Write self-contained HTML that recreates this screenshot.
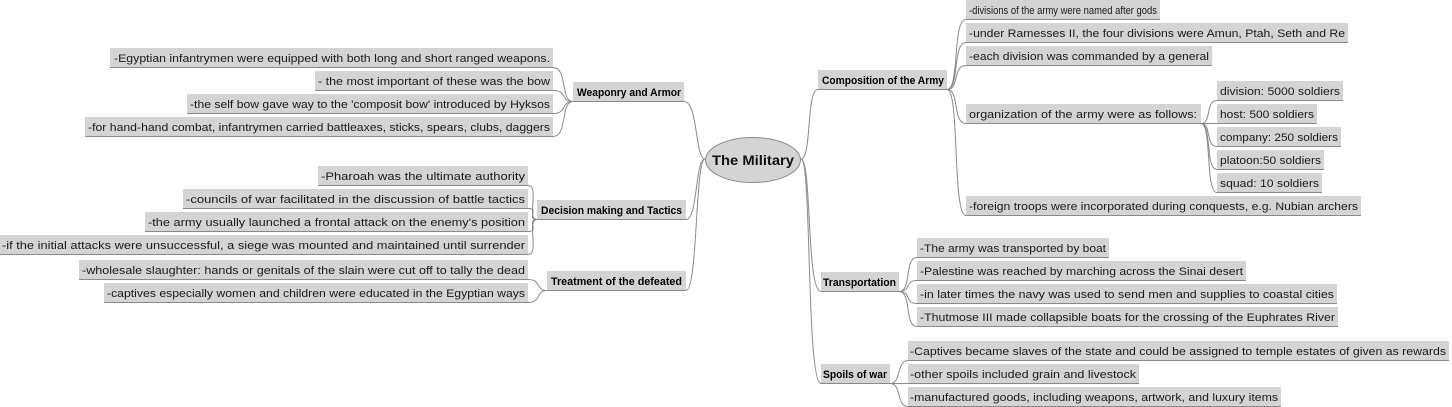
<!DOCTYPE html>
<html><head><meta charset="utf-8"><style>
html,body{margin:0;padding:0;background:#fff;width:1452px;height:407px;overflow:hidden}
svg{display:block}
text{font-family:"Liberation Sans",sans-serif;font-size:11px;fill:#1a1a1a}
.b{font-weight:bold;font-size:11px;fill:#000}
</style></head><body>
<svg width="1452" height="407" viewBox="0 0 1452 407" xmlns="http://www.w3.org/2000/svg">
<g fill="#d4d4d4" stroke="none">
<!-- left weaponry -->
<rect x="110" y="48" width="443" height="19"/>
<rect x="315" y="71" width="238" height="19"/>
<rect x="187" y="94" width="366" height="19"/>
<rect x="85" y="117" width="468" height="19"/>
<rect x="573" y="82" width="111" height="19"/>
<!-- decision -->
<rect x="318" y="166" width="210" height="19"/>
<rect x="183" y="189" width="345" height="19"/>
<rect x="145" y="212" width="383" height="19"/>
<rect x="0" y="235" width="528" height="19"/>
<rect x="537" y="200" width="149" height="19"/>
<!-- treatment -->
<rect x="79" y="260" width="449" height="19"/>
<rect x="104" y="283" width="424" height="19"/>
<rect x="547" y="271" width="139" height="19"/>
<!-- composition -->
<rect x="818" y="70" width="129" height="19"/>
<rect x="966" y="0" width="194" height="19"/>
<rect x="966" y="23" width="382" height="19"/>
<rect x="966" y="46" width="246" height="19"/>
<rect x="966" y="104" width="235" height="19"/>
<rect x="1217" y="81" width="126" height="19"/>
<rect x="1217" y="104" width="100" height="19"/>
<rect x="1217" y="127" width="124" height="19"/>
<rect x="1217" y="150" width="107" height="19"/>
<rect x="1217" y="173" width="105" height="19"/>
<rect x="966" y="196" width="395" height="19"/>
<!-- transport -->
<rect x="821" y="272" width="78" height="19"/>
<rect x="917" y="238" width="192" height="19"/>
<rect x="917" y="261" width="329" height="19"/>
<rect x="917" y="284" width="420" height="19"/>
<rect x="917" y="307" width="421" height="19"/>
<!-- spoils -->
<rect x="821" y="364" width="69" height="19"/>
<rect x="908" y="341" width="541" height="19"/>
<rect x="908" y="364" width="231" height="19"/>
<rect x="908" y="387" width="373" height="19"/>
</g>
<g fill="none" stroke="#8a8a8a" stroke-width="1">
<!-- bottom lines -->
<path d="M110 67.5H553M315 90.5H553M187 113.5H553M85 136.5H553M573 101.5H684"/>
<path d="M318 185.5H528M183 208.5H528M145 231.5H528M0 254.5H528M537 219.5H686"/>
<path d="M79 279.5H528M104 302.5H528M547 290.5H686"/>
<path d="M818 89.5H947M966 19.5H1160M966 42.5H1348M966 65.5H1212M966 123.5H1201M1217 100.5H1343M1217 123.5H1317M1217 146.5H1341M1217 169.5H1324M1217 192.5H1322M966 215.5H1361"/>
<path d="M821 291.5H899M917 257.5H1109M917 280.5H1246M917 303.5H1337M917 326.5H1338"/>
<path d="M821 383.5H890M908 360.5H1449M908 383.5H1139M908 406.5H1281"/>
<!-- center connectors -->
<path d="M705 159C695 159 698 101 684 101.5"/>
<path d="M705 159C695 159 698 219 686 219.5"/>
<path d="M705 159C695 159 698 290 686 290.5"/>
<path d="M801 159C812 159 806 89 818 89.5"/>
<path d="M801 159C812 159 806 291 821 291.5"/>
<path d="M801 159C812 159 806 383 821 383.5"/>
<!-- weaponry -->
<path d="M573 101.5C560 101.5 568 67.5 553 67.5"/>
<path d="M573 101.5C560 101.5 568 90.5 553 90.5"/>
<path d="M573 101.5C560 101.5 568 113.5 553 113.5"/>
<path d="M573 101.5C560 101.5 568 136.5 553 136.5"/>
<!-- decision -->
<path d="M537 219.5C526 219.5 540 185.5 528 185.5"/>
<path d="M537 219.5C526 219.5 540 208.5 528 208.5"/>
<path d="M537 219.5C526 219.5 540 231.5 528 231.5"/>
<path d="M537 219.5C526 219.5 540 254.5 528 254.5"/>
<!-- treatment -->
<path d="M547 290.5C535 290.5 542 279.5 528 279.5"/>
<path d="M547 290.5C535 290.5 542 302.5 528 302.5"/>
<!-- composition -->
<path d="M947 89.5C960 89.5 952 19.5 966 19.5"/>
<path d="M947 89.5C960 89.5 952 42.5 966 42.5"/>
<path d="M947 89.5C960 89.5 952 65.5 966 65.5"/>
<path d="M947 89.5C960 89.5 952 123.5 966 123.5"/>
<path d="M947 89.5C960 89.5 952 215.5 966 215.5"/>
<path d="M1201 123.5C1212 123.5 1205 100.5 1217 100.5"/>
<path d="M1201 123.5C1212 123.5 1205 123.5 1217 123.5"/>
<path d="M1201 123.5C1212 123.5 1205 146.5 1217 146.5"/>
<path d="M1201 123.5C1212 123.5 1205 169.5 1217 169.5"/>
<path d="M1201 123.5C1212 123.5 1205 192.5 1217 192.5"/>
<!-- transport -->
<path d="M899 291.5C912 291.5 904 257.5 917 257.5"/>
<path d="M899 291.5C912 291.5 904 280.5 917 280.5"/>
<path d="M899 291.5C912 291.5 904 303.5 917 303.5"/>
<path d="M899 291.5C912 291.5 904 326.5 917 326.5"/>
<!-- spoils -->
<path d="M890 383.5C902 383.5 896 360.5 908 360.5"/>
<path d="M890 383.5C902 383.5 896 383.5 908 383.5"/>
<path d="M890 383.5C902 383.5 896 406.5 908 406.5"/>
</g>
<ellipse cx="753" cy="160" rx="47.5" ry="22.5" fill="#d4d4d4" stroke="#8a8a8a"/>
<text x="753" y="165" text-anchor="middle" style="font-size:14px;font-weight:bold;fill:#111" textLength="82" lengthAdjust="spacingAndGlyphs">The Military</text>

<g>
<text x="114" y="62" textLength="436" lengthAdjust="spacingAndGlyphs">-Egyptian infantrymen were equipped with both long and short ranged weapons.</text>
<text x="318" y="85" textLength="232" lengthAdjust="spacingAndGlyphs">- the most important of these was the bow</text>
<text x="190" y="108" textLength="360" lengthAdjust="spacingAndGlyphs">-the self bow gave way to the 'composit bow' introduced by Hyksos</text>
<text x="88" y="131" textLength="462" lengthAdjust="spacingAndGlyphs">-for hand-hand combat, infantrymen carried battleaxes, sticks, spears, clubs, daggers</text>
<text class="b" x="577" y="96" textLength="104" lengthAdjust="spacingAndGlyphs">Weaponry and Armor</text>

<text x="321" y="180" textLength="204" lengthAdjust="spacingAndGlyphs">-Pharoah was the ultimate authority</text>
<text x="186" y="203" textLength="339" lengthAdjust="spacingAndGlyphs">-councils of war facilitated in the discussion of battle tactics</text>
<text x="148" y="226" textLength="377" lengthAdjust="spacingAndGlyphs">-the army usually launched a frontal attack on the enemy's position</text>
<text x="2" y="249" textLength="523" lengthAdjust="spacingAndGlyphs">-if the initial attacks were unsuccessful, a siege was mounted and maintained until surrender</text>
<text class="b" x="541" y="214" textLength="141" lengthAdjust="spacingAndGlyphs">Decision making and Tactics</text>

<text x="82" y="274" textLength="443" lengthAdjust="spacingAndGlyphs">-wholesale slaughter: hands or genitals of the slain were cut off to tally the dead</text>
<text x="107" y="297" textLength="418" lengthAdjust="spacingAndGlyphs">-captives especially women and children were educated in the Egyptian ways</text>
<text class="b" x="551" y="285" textLength="131" lengthAdjust="spacingAndGlyphs">Treatment of the defeated</text>

<text class="b" x="822" y="84" textLength="122" lengthAdjust="spacingAndGlyphs">Composition of the Army</text>
<text x="969" y="14" textLength="188" lengthAdjust="spacingAndGlyphs">-divisions of the army were named after gods</text>
<text x="969" y="37" textLength="376" lengthAdjust="spacingAndGlyphs">-under Ramesses II, the four divisions were Amun, Ptah, Seth and Re</text>
<text x="969" y="60" textLength="240" lengthAdjust="spacingAndGlyphs">-each division was commanded by a general</text>
<text x="969" y="118" textLength="228" lengthAdjust="spacingAndGlyphs">organization of the army were as follows:</text>
<text x="1220" y="95" textLength="120" lengthAdjust="spacingAndGlyphs">division: 5000 soldiers</text>
<text x="1220" y="118" textLength="94" lengthAdjust="spacingAndGlyphs">host: 500 soldiers</text>
<text x="1220" y="141" textLength="118" lengthAdjust="spacingAndGlyphs">company: 250 soldiers</text>
<text x="1220" y="164" textLength="101" lengthAdjust="spacingAndGlyphs">platoon:50 soldiers</text>
<text x="1220" y="187" textLength="99" lengthAdjust="spacingAndGlyphs">squad: 10 soldiers</text>
<text x="969" y="210" textLength="389" lengthAdjust="spacingAndGlyphs">-foreign troops were incorporated during conquests, e.g. Nubian archers</text>

<text class="b" x="823" y="286" textLength="73" lengthAdjust="spacingAndGlyphs">Transportation</text>
<text x="920" y="252" textLength="186" lengthAdjust="spacingAndGlyphs">-The army was transported by boat</text>
<text x="920" y="275" textLength="323" lengthAdjust="spacingAndGlyphs">-Palestine was reached by marching across the Sinai desert</text>
<text x="920" y="298" textLength="414" lengthAdjust="spacingAndGlyphs">-in later times the navy was used to send men and supplies to coastal cities</text>
<text x="920" y="321" textLength="415" lengthAdjust="spacingAndGlyphs">-Thutmose III made collapsible boats for the crossing of the Euphrates River</text>

<text class="b" x="823" y="378" textLength="64" lengthAdjust="spacingAndGlyphs">Spoils of war</text>
<text x="910" y="355" textLength="536" lengthAdjust="spacingAndGlyphs">-Captives became slaves of the state and could be assigned to temple estates of given as rewards</text>
<text x="910" y="378" textLength="226" lengthAdjust="spacingAndGlyphs">-other spoils included grain and livestock</text>
<text x="910" y="401" textLength="368" lengthAdjust="spacingAndGlyphs">-manufactured goods, including weapons, artwork, and luxury items</text>
</g>
</svg>
</body></html>
